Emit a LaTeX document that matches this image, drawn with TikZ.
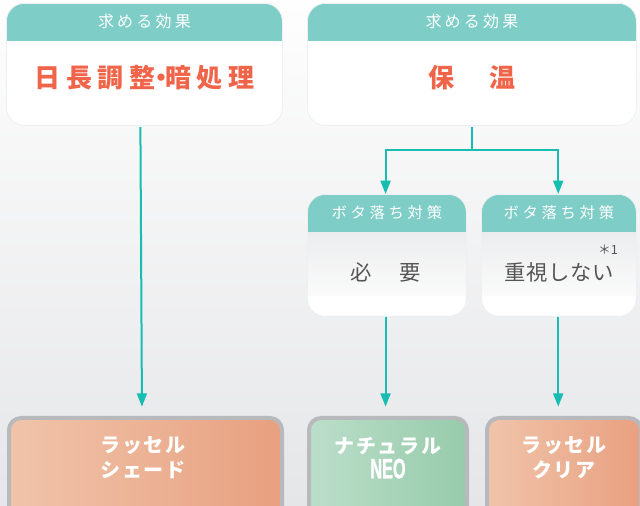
\documentclass[tikz,border=0pt]{standalone}
\usepackage{fontspec}
\setmainfont{Noto Sans CJK JP}
\newfontfamily\neofont[FakeStretch=0.58,FakeBold=1]{Liberation Sans}
\usetikzlibrary{arrows.meta}
\definecolor{hdr}{RGB}{126,205,199}
\definecolor{arrc}{RGB}{23,189,177}
\definecolor{redt}{RGB}{240,101,74}
\definecolor{grayt}{RGB}{85,85,85}
\definecolor{bgA}{RGB}{254,254,254}
\definecolor{bgB}{RGB}{229,230,232}
\definecolor{mtop}{RGB}{228,229,231}
\definecolor{edge}{RGB}{238,239,240}
\definecolor{orL}{RGB}{240,196,170}
\definecolor{orR}{RGB}{232,160,128}
\definecolor{grL}{RGB}{188,222,202}
\definecolor{grR}{RGB}{150,203,170}
\definecolor{bord}{RGB}{184,185,188}
\tikzset{
  cardbase/.style={draw=edge, line width=0.6pt, fill=white, rounded corners=13.5pt, inner sep=0pt, anchor=north west},
  topcard/.style={cardbase, path picture={
    \fill[hdr, sharp corners] (path picture bounding box.north west) rectangle ([yshift=-28.5pt]path picture bounding box.north east);}},
  midcard/.style={cardbase, path picture={
    \shade[top color=mtop, bottom color=white, sharp corners] ([yshift=-28.5pt]path picture bounding box.north west) rectangle ([yshift=-76pt]path picture bounding box.north east);
    \fill[hdr, sharp corners] (path picture bounding box.north west) rectangle ([yshift=-28.5pt]path picture bounding box.north east);}},
  hdrtext/.style={text=white, inner sep=0pt, font=\fontsize{12pt}{14pt}\selectfont\addfontfeatures{LetterSpace=20}},
  mhdrtext/.style={text=white, inner sep=0pt, font=\fontsize{11.5pt}{14pt}\selectfont\addfontfeatures{LetterSpace=24}},
  redtext/.style={text=redt, inner sep=0pt, font=\bfseries\fontsize{19.5pt}{22pt}\selectfont\addfontfeatures{LetterSpace=21}},
  graytext/.style={text=grayt, inner sep=0pt, font=\fontsize{16pt}{19pt}\selectfont},
  prodbox/.style={draw=bord, line width=3pt, rounded corners=9pt, inner sep=0pt, anchor=north west},
  orbox/.style={prodbox, left color=orL, right color=orR},
  grbox/.style={prodbox, left color=grL, right color=grR},
  prodtext/.style={text=white, inner sep=0pt, align=center, font=\bfseries\fontsize{15pt}{18.5pt}\selectfont\addfontfeatures{LetterSpace=8}},
  arr/.style={draw=arrc, line width=1.5pt, -{Triangle[width=7.5pt,length=10pt]}},
}
\begin{document}
\begin{tikzpicture}[x=0.75pt,y=0.75pt]
\useasboundingbox (0,0) rectangle (640,-506);
\fill[top color=bgA, bottom color=bgB] (0,0) rectangle (640,-506);
\begin{scope}
\clip (0,0) rectangle (640,-506);
% top cards
\node[topcard, minimum width={276*0.75pt}, minimum height={122*0.75pt}] (t1) at (6,-3) {};
\node[topcard, minimum width={329*0.75pt}, minimum height={122*0.75pt}] (t2) at (307,-3) {};
\node[hdrtext] (t1h) at ([yshift=-13.5pt]t1.north) {求める効果};
\node[hdrtext] (t2h) at ([yshift=-13.5pt]t2.north) {求める効果};
\node[redtext] (t1b) at ([xshift=0pt,yshift=-56.25pt]t1.north) {日長調整\hspace{-5pt}・\hspace{-7pt}暗処理};
\node[redtext] (t2b) at ([yshift=-56.25pt]t2.north) {保\hspace{26pt}温};
% middle cards
\node[midcard, minimum width={159*0.75pt}, minimum height={122*0.75pt}] (m1) at (307,-194) {};
\node[midcard, minimum width={155*0.75pt}, minimum height={122*0.75pt}] (m2) at (481,-194) {};
\node[mhdrtext] (m1h) at ([yshift=-14.25pt]m1.north) {ボタ落ち対策};
\node[mhdrtext] (m2h) at ([yshift=-14.25pt]m2.north) {ボタ落ち対策};
\node[graytext] (m1b) at ([xshift=-1pt,yshift=-58.5pt]m1.north) {必\hspace{21pt}要};
\node[graytext, font=\fontsize{16pt}{19pt}\selectfont\addfontfeatures{LetterSpace=3}] (m2b) at ([yshift=-58.5pt]m2.north) {重視しない};
\node[text=grayt, inner sep=0pt, font=\fontsize{9.5pt}{10pt}\selectfont] (m2n) at (608,-250) {＊1};
% product boxes
\node[orbox, minimum width={273*0.75pt}, minimum height={144*0.75pt}] (b1) at (7,-416) {};
\node[grbox, minimum width={158*0.75pt}, minimum height={144*0.75pt}] (b2) at (307,-416) {};
\node[orbox, minimum width={154*0.75pt}, minimum height={144*0.75pt}] (b3) at (485,-416) {};
\node[prodtext] (b1t) at ([xshift=-2pt,yshift=-31.5pt]b1.north) {ラッセル\\シェード};
\node[prodtext] (b2t) at ([xshift=0pt,yshift=-31.5pt]b2.north) {ナチュラル\\{\neofont\bfseries\fontsize{21pt}{18pt}\selectfont NEO}};
\node[prodtext] (b3t) at ([xshift=0pt,yshift=-31.5pt]b3.north) {ラッセル\\クリア};
% connectors
\draw[arr, shorten >=5pt] ([xshift=-3pt,yshift=-1pt]t1.south) -- ([xshift=-2.625pt,yshift=2pt]b1.north);
\draw[arr] ([yshift=-1pt]t2.south) -- ++(0,-17.25pt) -| ([xshift=-1pt]m1.north);
\draw[arr] ([yshift=-1pt]t2.south) -- ++(0,-17.25pt) -| ([xshift=-0.5pt]m2.north);
\draw[arr, shorten >=5pt] ([xshift=-1pt]m1.south) -- ([xshift=-1pt,yshift=2pt]b2.north -| m1.south);
\draw[arr, shorten >=5pt] ([xshift=-0.5pt]m2.south) -- ([xshift=-0.5pt,yshift=2pt]b3.north -| m2.south);
\end{scope}
\end{tikzpicture}
\end{document}
